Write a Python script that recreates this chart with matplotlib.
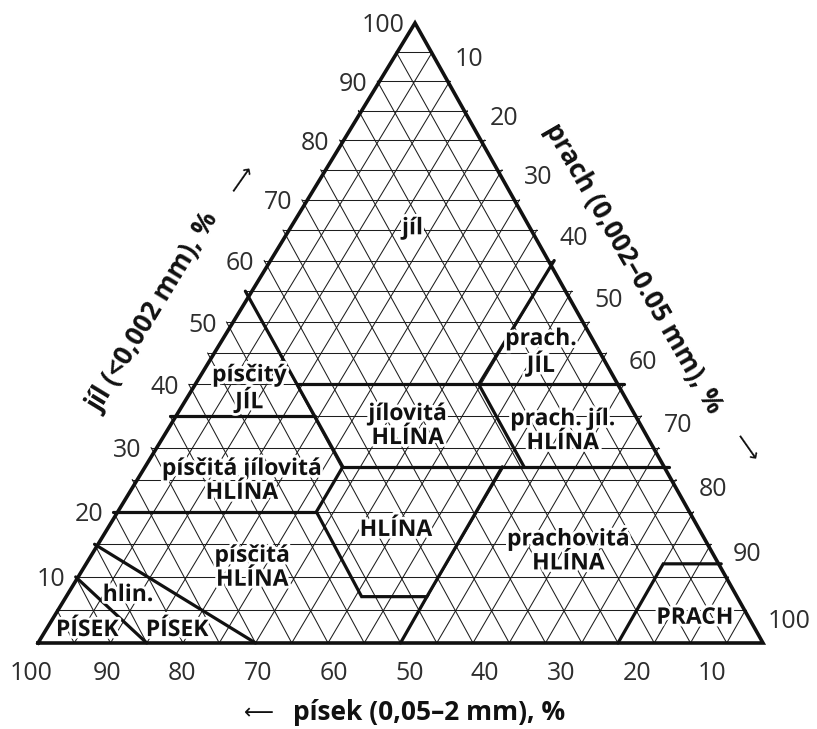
import matplotlib
matplotlib.use("Agg")  # render to file, no GUI
import matplotlib.pyplot as plt  # noqa: E402
import matplotlib.patheffects as pe  # noqa: E402

# ---------------------------------------------------------------------------
# Data: USDA soil texture triangle (Czech labels), all values in percent
# points are given as (sand, clay, silt)
# ---------------------------------------------------------------------------
TICKS = [10, 20, 30, 40, 50, 60, 70, 80, 90, 100]
GRID_STEPS = [5, 10, 15, 20, 25, 30, 35, 40, 45, 50,
              55, 60, 65, 70, 75, 80, 85, 90, 95]

OUTLINE = [(100, 0, 0), (0, 0, 100), (0, 100, 0), (100, 0, 0)]

BOUNDARIES = [
    [(45, 55, 0), (45, 27, 28), (52, 20, 28), (52, 7, 41), (43, 7, 50), (50, 0, 50)],
    [(80, 20, 0), (52, 20, 28)],
    [(43, 7, 50), (23, 27, 50)],
    [(45, 27, 28), (0, 27, 73)],
    [(45, 40, 15), (0, 40, 60)],
    [(65, 35, 0), (45, 35, 20)],
    [(20, 40, 40), (0, 60, 40)],
    [(20, 40, 40), (20, 27, 53)],
    [(20, 0, 80), (8, 12, 80), (0, 12, 88)],
    [(85, 0, 15), (90, 10, 0)],
    [(70, 0, 30), (85, 15, 0)],
]

REGION_TEXT = ["jíl", "prach.\nJÍL", "písčitý\nJÍL", "jílovitá\nHLÍNA",
               "prach. jíl.\nHLÍNA", "písčitá jílovitá\nHLÍNA", "HLÍNA",
               "písčitá\nHLÍNA", "hlin.", "PÍSEK", "PÍSEK",
               "prachovitá\nHLÍNA", "PRACH"]
REGION_SAND = [17, 9, 52, 33, 12, 60, 42.4, 65, 84.1, 79.9, 92.3, 20.2, 7.6]
REGION_CLAY = [65.3, 45.1, 39.3, 33.4, 32.6, 24.8, 17.2, 11.4, 7.25, 1.95, 1.95, 13.9, 3.8]

CLAY_TITLE = "jíl (<0,002 mm), %"
SILT_TITLE = "prach (0,002–0.05 mm), %"
SAND_TITLE = "písek (0,05–2 mm), %"

# ---------------------------------------------------------------------------
# Layout (scan of a printed page: the apex leans right, rows shrink upwards)
# ---------------------------------------------------------------------------
LEAN = 0.52
SQUEEZE = 0.000735
FONT = ["Open Sans", "DejaVu Sans"]
TICK_COLOR = "#2e2e2e"


def to_xy(sand, clay, silt):
    return silt + LEAN * clay, clay


def _fwd(c):
    return c / (1 + SQUEEZE * c)


def _inv(f):
    return f / (1 - SQUEEZE * f)


fig = plt.figure(figsize=(8.17, 7.29), dpi=100)
ax = fig.add_axes([38 / 817, 86 / 729, 725 / 817, 620 / 729])
ax.set_yscale("function", functions=(_fwd, _inv))
ax.set_xlim(0, 100)
ax.set_ylim(0, 100)
ax.axis("off")

# --- thin 5 % grid -----------------------------------------------------------
grid_kw = dict(color="#1e1e1e", linewidth=0.75, zorder=1, clip_on=False)
for v in GRID_STEPS:
    for a, b in (((100 - v, v, 0), (0, v, 100 - v)),     # clay = v
                 ((100 - v, 0, v), (0, 100 - v, v)),     # silt = v
                 ((v, 0, 100 - v), (v, 100 - v, 0))):    # sand = v
        (x0, y0), (x1, y1) = to_xy(*a), to_xy(*b)
        ax.plot([x0, x1], [y0, y1], **grid_kw)

# --- class boundaries and outline ------------------------------------------
for line in BOUNDARIES:
    xs, ys = zip(*[to_xy(*p) for p in line])
    ax.plot(xs, ys, color="#111111", linewidth=2.3, zorder=3,
            solid_capstyle="round", solid_joinstyle="miter", clip_on=False)
xs, ys = zip(*[to_xy(*p) for p in OUTLINE])
ax.plot(xs, ys, color="#111111", linewidth=2.6, zorder=4,
        solid_joinstyle="miter", clip_on=False)

# --- class names -----------------------------------------------------------
halo = [pe.withStroke(linewidth=4, foreground="white")]
for name, sand, clay in zip(REGION_TEXT, REGION_SAND, REGION_CLAY):
    x, y = to_xy(sand, clay, 100 - sand - clay)
    ax.text(x, y, name, ha="center", va="center", fontsize=16.5,
            fontweight="bold", family=FONT, linespacing=1.0,
            color="#111111", zorder=5, path_effects=halo)

# --- tick labels -------------------------------------------------------------
for t in TICKS:
    ax.annotate(str(t), to_xy(100 - t, t, 0), xytext=(-10, -3),
                textcoords="offset pixels", ha="right", va="center",
                fontsize=18, family=FONT, color=TICK_COLOR)
    ax.annotate(str(t), to_xy(0, 100 - t, t), xytext=(5, 22),
                textcoords="offset pixels", ha="left", va="center",
                fontsize=18, family=FONT, color=TICK_COLOR)
    ax.annotate(str(t), to_xy(t, 0, 100 - t), xytext=(-7 + 0.32 * (100 - t), -30),
                textcoords="offset pixels", ha="center", va="center",
                fontsize=18, family=FONT, color=TICK_COLOR)

# --- axis titles -------------------------------------------------------------
title_kw = dict(textcoords="offset pixels", ha="center", va="center",
                fontsize=19, fontweight="bold", family=FONT, color="#111111",
                rotation_mode="anchor")
arrow_kw = dict(textcoords="offset pixels", ha="center", va="center",
                fontsize=15, family=["DejaVu Sans"], color="#111111",
                rotation_mode="anchor")

ax.annotate(CLAY_TITLE, to_xy(48.5, 51.5, 0), xytext=(-79, 0),
            rotation=58.7, **title_kw)
ax.annotate("⟶", to_xy(26.7, 73.3, 0), xytext=(-72, 0),
            rotation=55, **arrow_kw)
ax.annotate(SILT_TITLE, to_xy(0, 58.8, 41.2), xytext=(75, 0),
            rotation=-60, **title_kw)
ax.annotate("⟶", to_xy(0, 29.9, 70.1), xytext=(86, 0),
            rotation=-55, **arrow_kw)
ax.annotate(SAND_TITLE, to_xy(50, 0, 50), xytext=(29, -70), **title_kw)
ax.annotate("⟵", to_xy(50, 0, 50), xytext=(-142, -70), **arrow_kw)

fig.savefig("out.png", dpi=100, facecolor="white")
plt.close(fig)
